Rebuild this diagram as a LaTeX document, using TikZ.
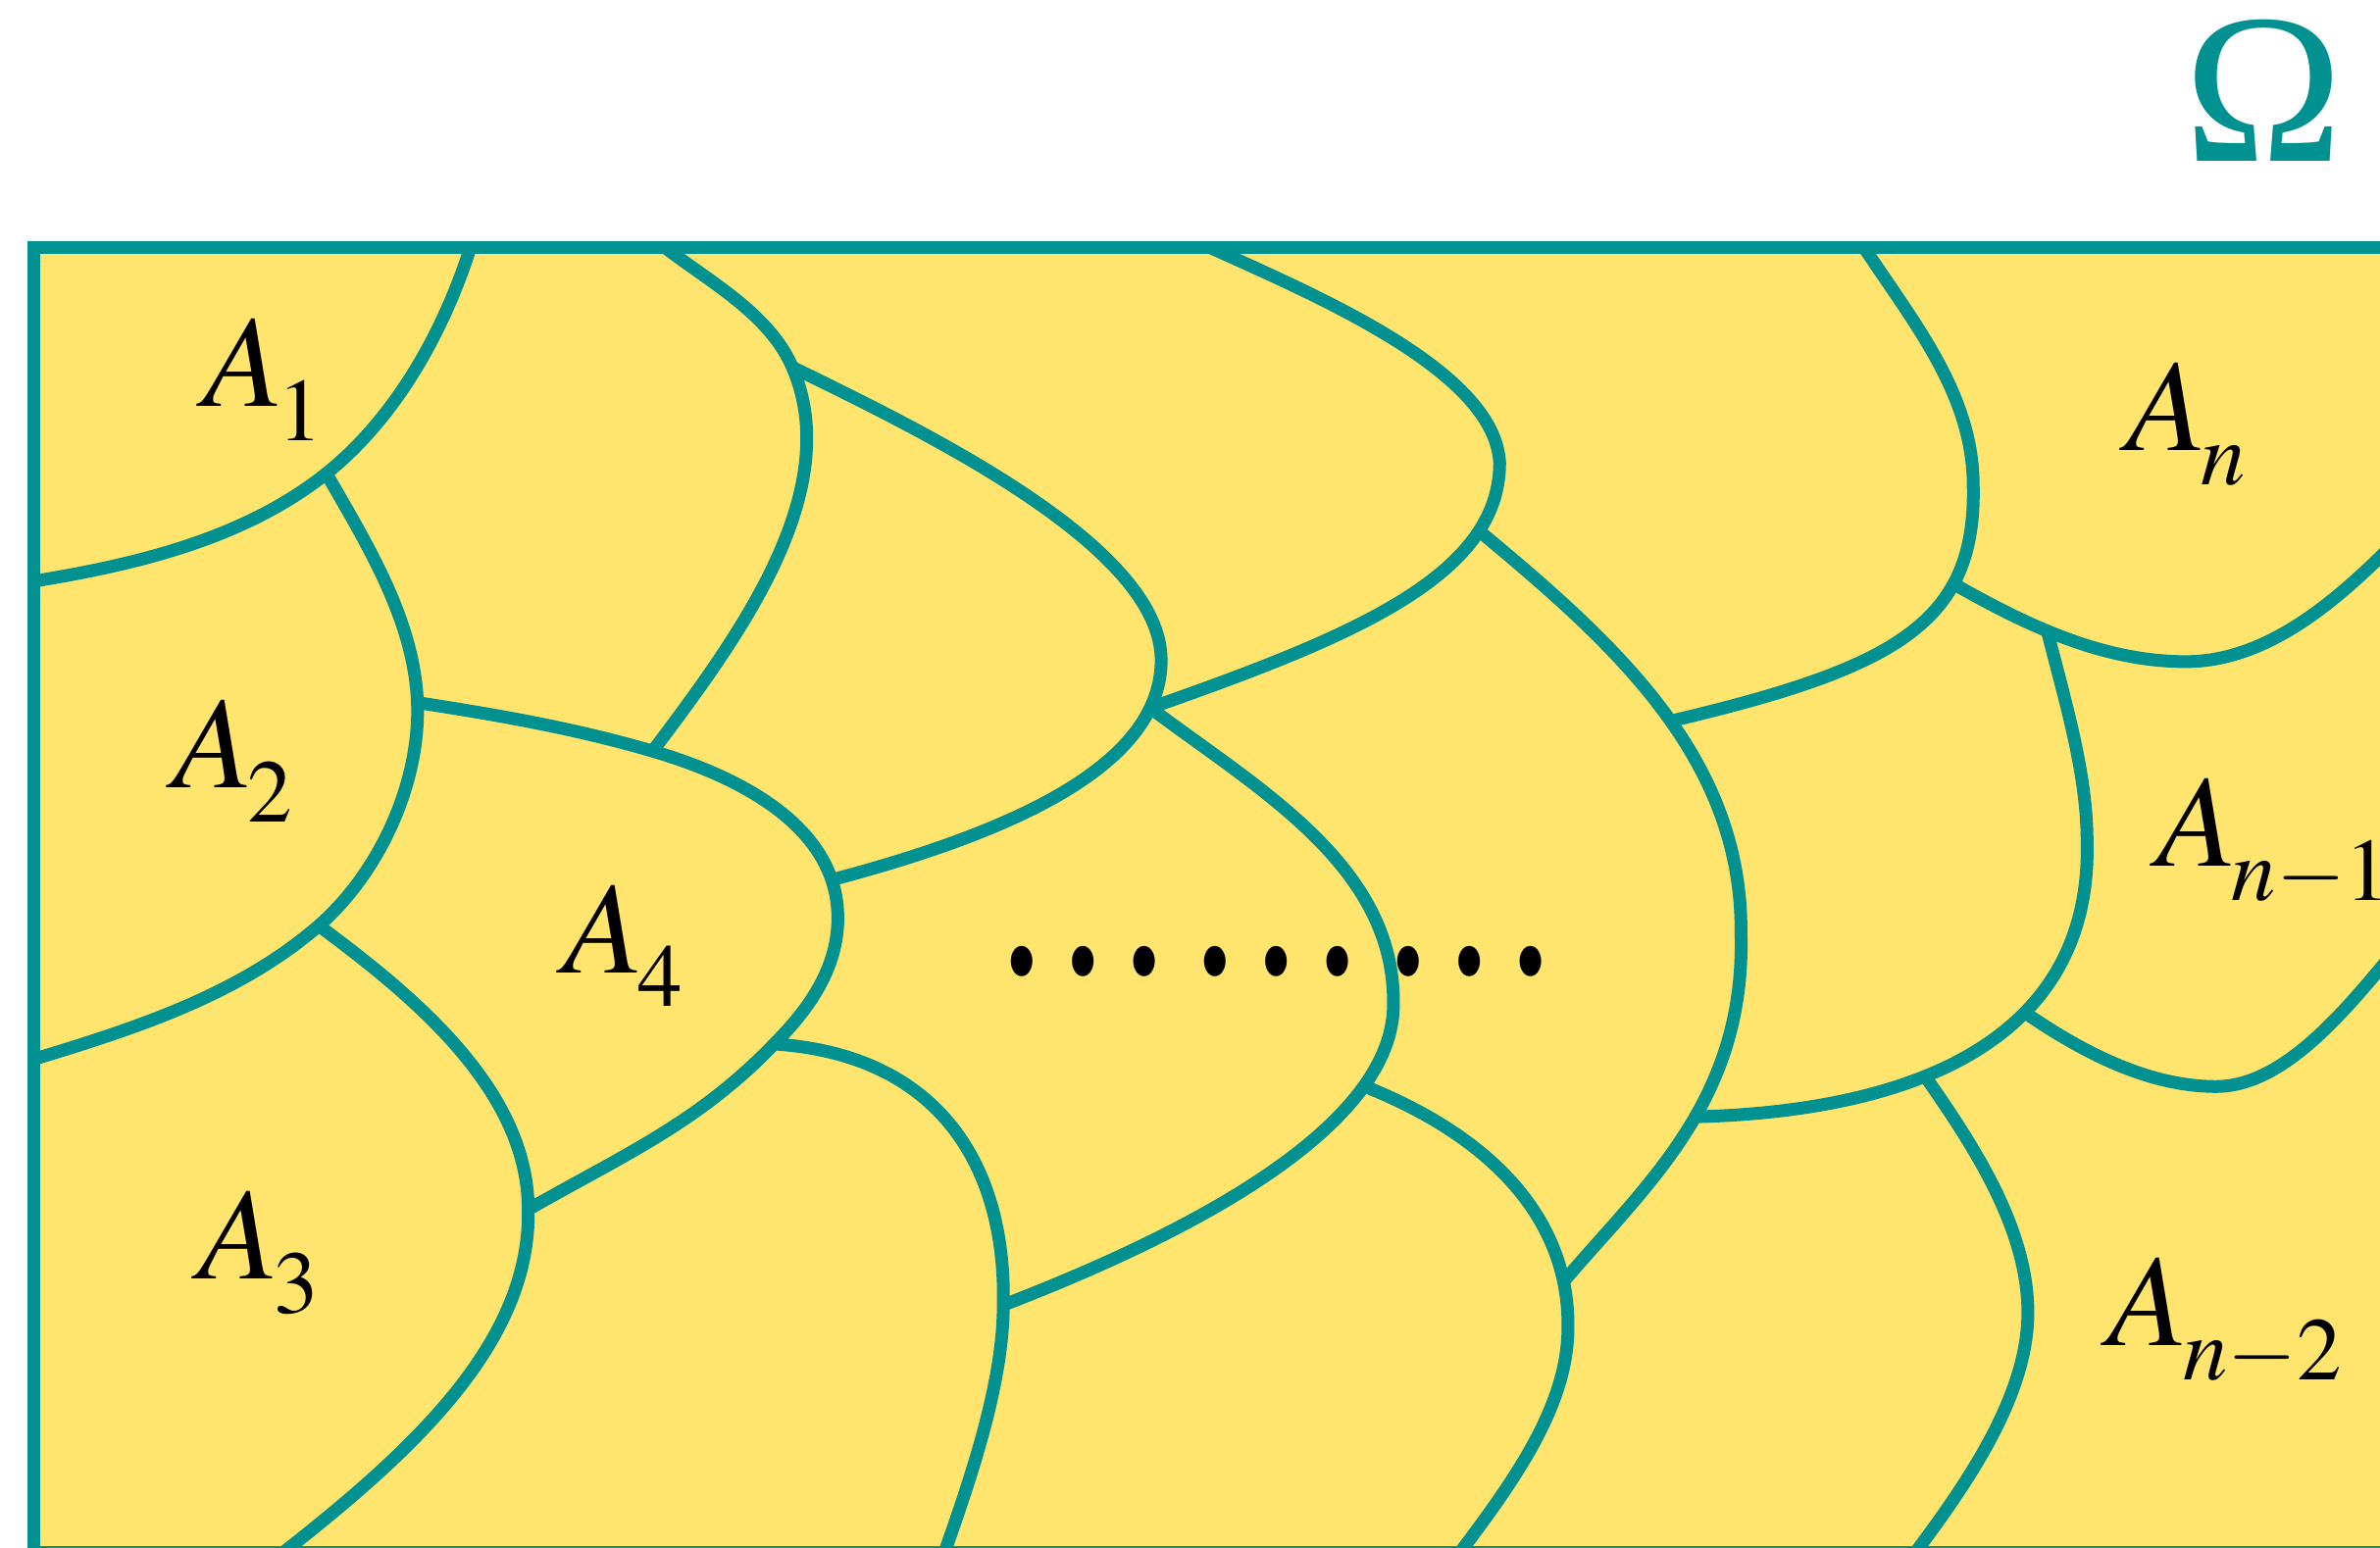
\documentclass[tikz,border=0pt]{standalone}
\usepackage{mathptmx}
\usepackage[no-math]{fontspec}
\setmainfont{Liberation Serif}
\usetikzlibrary{positioning}

\definecolor{sea}{HTML}{009190}
\definecolor{sand}{HTML}{FFE46E}
\newcommand{\regionlabel}[1]{$A_{\kern-1.5pt\lower4.2pt\hbox{\scalebox{0.92}{$\scriptstyle #1$}}}$}

\begin{document}
\begin{tikzpicture}[
x=0.015478cm, y=-0.015478cm,
frame/.style={draw=sea, line width=0.13cm},
cut/.style={draw=sea, line width=0.13cm},
region/.style={anchor=base west, inner sep=0pt, font=\fontsize{38}{40}\selectfont},
omega/.style={anchor=base, inner sep=0pt, text=sea, font=\fontsize{62}{64}\selectfont}
]
\useasboundingbox (0,0) rectangle (1568,1020);
\clip (0,0) rectangle (1568,1020);

% the whole set
\fill[sand] (22.3,163.4) rectangle (1700,1023.3);
\node[omega] (om) at (1491.6,106) {Ω};

\coordinate (j1) at (215,312);
\coordinate (j2) at (275,463);
\coordinate (j4) at (210,610);
\coordinate (j7) at (348,797);
\coordinate (j3) at (430,495);
\coordinate (j8) at (510,688);
\coordinate (j5) at (522,242);
\coordinate (j11) at (661,860);

% left column
\draw[cut] (310,163) .. controls (292,219) and (261,275) .. (j1)
  .. controls (161,355) and (90,372) .. (22.3,383);
\draw[cut] (j1) .. controls (242,359) and (273,409) .. (j2)
  .. controls (277,516) and (250,575) .. (j4)
  .. controls (157,656) and (88,678) .. (22.3,698);
\draw[cut] (j4) .. controls (272,656) and (348,718) .. (j7)
  .. controls (350,890) and (262,965) .. (170,1036);
\draw[cut] (j2) .. controls (327,471) and (379,480) .. (j3)
  .. controls (488,512) and (552,545) .. (552,605) coordinate[pos=0.85] (j6)
  .. controls (552,638) and (533,665) .. (j8)
  .. controls (460,740) and (411,761) .. (j7);
\draw[cut] (438,163) .. controls (468,186) and (507,207) .. (j5)
  .. controls (558,325) and (484,423) .. (j3);

% middle
\draw[cut] (j5) .. controls (610,285) and (765,360) .. (765,435)
  .. controls (765,500) and (680,545) .. (j6) coordinate[pos=0.17] (j9);
\draw[cut] (797,163) .. controls (870,196) and (985,245) .. (988,305)
  .. controls (988,380) and (890,420) .. (j9) coordinate[pos=0.22] (j12);
\draw[cut] (j8) .. controls (620,695) and (663,770) .. (j11)
  .. controls (661,920) and (632,995) .. (612,1052);
\draw[cut] (j9) .. controls (829,520) and (918,570) .. (918,660)
  .. controls (920,740) and (791,810) .. (j11) coordinate[pos=0.24] (j10);
\draw[cut] (j10) .. controls (985,750) and (1034,805) .. (1033,875) coordinate[pos=0.85] (j19)
  .. controls (1033,935) and (985,992) .. (940,1052);

% right column
\draw[cut] (j12) .. controls (1065,425) and (1148,500) .. (1147,615) coordinate[pos=0.53] (j13)
  .. controls (1150,725) and (1085,780) .. (j19) coordinate[pos=0.45] (j16);
\draw[cut] (1228,163) .. controls (1261,213) and (1300,260) .. (1300,320)
  .. controls (1302,410) and (1250,440) .. (j13) coordinate[pos=0.29] (j14);
\draw[cut] (j14) .. controls (1335,412) and (1385,436) .. (1440,436) coordinate[pos=0.42] (j15)
  .. controls (1500,436) and (1550,386) .. (1590,345);
\draw[cut] (j15) .. controls (1361,464) and (1375,510) .. (1375,555)
  .. controls (1378,680) and (1270,732) .. (j16) coordinate[pos=0.38] (j17) coordinate[pos=0.62] (j18);
\draw[cut] (j17) .. controls (1370,692) and (1414,716) .. (1460,716)
  .. controls (1510,716) and (1555,653) .. (1590,612);
\draw[cut] (j18) .. controls (1301,756) and (1336,810) .. (1336,865)
  .. controls (1336,930) and (1280,999) .. (1240,1052);

\draw[frame] (22.3,1023.3) -- (22.3,163.4) -- (1700,163.4);
\draw[frame] (22.3,1023.3) -- (1700,1023.3);

% labels
\node[region] (a1) at (133.5,268) {\regionlabel{1}};
\node[region] (a2) at (113.5,519) {\regionlabel{2}};
\node[region] (a3) at (130.5,843) {\regionlabel{3}};
\node[region] (a4) at (370.5,641) {\regionlabel{4}};
\node[region] (an) at (1400.5,297) {\regionlabel{n}};
\node[region] (an1) at (1420.5,571) {\regionlabel{n-1}};
\node[region] (an2) at (1388.5,887) {\regionlabel{n-2}};
\node[anchor=base, inner sep=0pt, font=\fontsize{53}{55}\selectfont] (dots) at (841,641) {\scalebox{1}[1.4]{…\kern3pt…\kern3pt…}};
\end{tikzpicture}
\end{document}
